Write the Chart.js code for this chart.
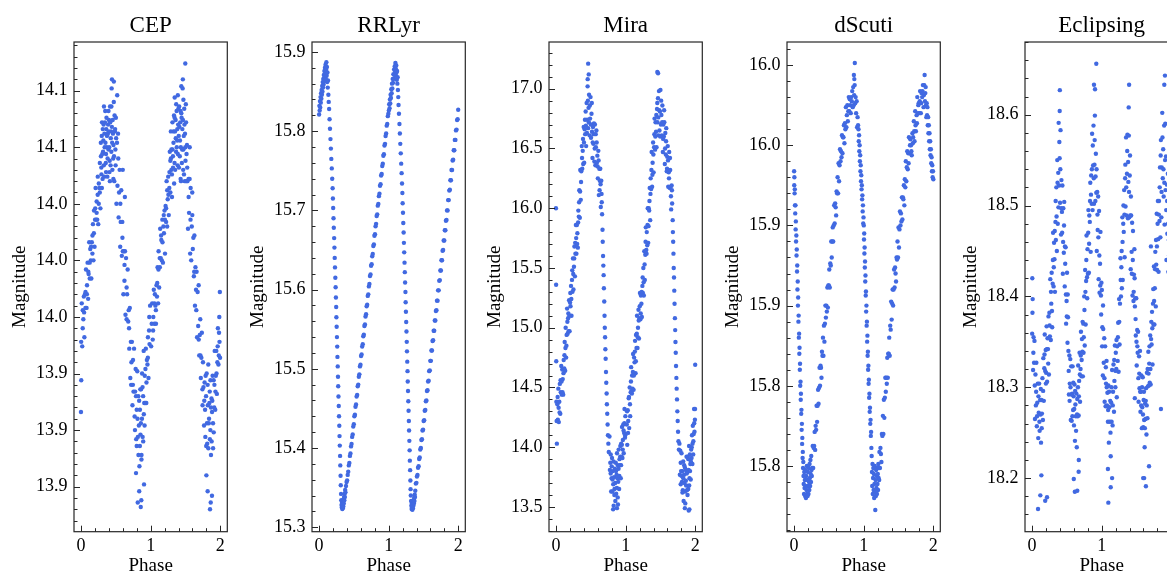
<!DOCTYPE html>
<html>
<head>
<meta charset="utf-8">
<script src="https://cdn.jsdelivr.net/npm/chart.js@4.4.1/dist/chart.umd.min.js"></script>
<style>
  html, body { margin: 0; padding: 0; background: #fff; overflow: hidden; }
  #wrap { position: relative; width: 1167px; height: 576px; overflow: hidden; }
  .panel { position: absolute; top: 0; width: 238px; height: 576px; }
</style>
</head>
<body>
<div id="wrap">
  <div class="panel" style="left:0px"><canvas id="cep" width="238" height="576"></canvas></div>
  <div class="panel" style="left:238px"><canvas id="rrlyr" width="238" height="576"></canvas></div>
  <div class="panel" style="left:475px"><canvas id="mira" width="238" height="576"></canvas></div>
  <div class="panel" style="left:713px"><canvas id="dscuti" width="238" height="576"></canvas></div>
  <div class="panel" style="left:951px"><canvas id="eclipsing" width="238" height="576"></canvas></div>
</div>
<script>
// ---- phase axis (shared) ----
const phaseTicks = [0, 1, 2];
const phaseLabels = ['0', '1', '2'];

// ---- CEP ----
const cepTicks = [13.9, 13.925, 13.95, 13.975, 14.0, 14.025, 14.05, 14.075];
const cepTickLabels = ['13.9', '13.9', '13.9', '14.0', '14.0', '14.0', '14.1', '14.1'];
const cepCycle1 = [[0.003,13.964],[0.011,13.981],[0.018,13.962],[0.026,13.978],[0.034,13.974],[0.041,13.984],[0.049,13.966],[0.057,13.985],[0.064,13.979],[0.072,13.996],[0.080,13.979],[0.087,13.989],[0.095,13.999],[0.103,13.983],[0.110,13.994],[0.118,14.008],[0.126,13.992],[0.133,14.005],[0.141,14.000],[0.149,13.992],[0.156,14.008],[0.164,14.003],[0.172,14.016],[0.179,14.000],[0.187,14.022],[0.195,14.006],[0.202,14.018],[0.210,14.032],[0.218,14.018],[0.225,14.026],[0.233,14.018],[0.241,14.037],[0.248,14.016],[0.256,14.034],[0.264,14.032],[0.271,14.043],[0.279,14.023],[0.287,14.046],[0.294,14.038],[0.302,14.061],[0.310,14.036],[0.317,14.048],[0.325,14.060],[0.333,14.037],[0.340,14.050],[0.348,14.066],[0.356,14.043],[0.363,14.058],[0.371,14.050],[0.379,14.037],[0.386,14.056],[0.394,14.049],[0.402,14.062],[0.409,14.039],[0.417,14.068],[0.425,14.042],[0.432,14.057],[0.440,14.076],[0.448,14.052],[0.455,14.062],[0.463,14.045],[0.471,14.070],[0.478,14.035],[0.486,14.057],[0.494,14.049],[0.501,14.063],[0.509,14.025],[0.517,14.052],[0.524,14.033],[0.532,14.056],[0.540,14.019],[0.547,14.030],[0.555,14.040],[0.563,14.006],[0.570,14.017],[0.578,14.031],[0.586,14.002],[0.593,14.017],[0.601,14.004],[0.609,13.985],[0.616,14.004],[0.624,13.991],[0.632,14.004],[0.639,13.976],[0.647,14.001],[0.655,13.974],[0.662,13.985],[0.670,13.996],[0.678,13.973],[0.685,13.978],[0.693,13.961],[0.701,13.979],[0.708,13.948],[0.716,13.964],[0.724,13.955],[0.731,13.964],[0.739,13.936],[0.747,13.956],[0.754,13.942],[0.762,13.961],[0.770,13.931],[0.777,13.942],[0.785,13.952],[0.793,13.921],[0.800,13.934],[0.808,13.951],[0.816,13.922],[0.823,13.940],[0.831,13.927],[0.839,13.909],[0.846,13.934],[0.854,13.923],[0.862,13.943],[0.869,13.914],[0.877,13.950],[0.885,13.922],[0.892,13.940],[0.900,13.960],[0.908,13.937],[0.915,13.949],[0.923,13.937],[0.931,13.961],[0.938,13.937],[0.946,13.956],[0.954,13.954],[0.961,13.966],[0.969,13.948],[0.977,13.969],[0.984,13.963],[0.992,13.980],
  [0.000,13.933],[0.004,13.947],[0.815,13.893],[0.836,13.898],[0.858,13.891],[0.866,13.894],[0.905,13.901],[0.790,13.906],[0.445,14.080],[0.472,14.079],[0.520,14.073],[0.600,14.040],[0.630,14.028],
  [0.285,14.052],[0.292,14.041],[0.298,14.055],[0.306,14.047],[0.313,14.058],[0.321,14.053],[0.328,14.042],[0.336,14.056],[0.344,14.061],[0.351,14.052],[0.359,14.047],[0.366,14.063],[0.374,14.055],[0.382,14.045],[0.389,14.060],[0.397,14.057],[0.405,14.050],[0.412,14.044],[0.420,14.061],[0.428,14.054],[0.436,14.048],[0.443,14.059],[0.451,14.040],[0.459,14.056],[0.466,14.051],[0.474,14.046],[0.482,14.064],[0.490,14.058],[0.497,14.042],[0.505,14.054],[0.330,14.068],[0.360,14.039],[0.395,14.066],[0.415,14.035],[0.437,14.068],[0.465,14.036],[0.300,14.032],[0.270,14.030],[0.255,14.025],[0.240,14.029],[0.225,14.021],[0.205,14.023],[0.185,14.012],[0.165,14.011],[0.145,14.006],[0.125,13.999],[0.105,13.995],[0.085,13.985],[0.065,13.986],[0.045,13.977],[0.025,13.970],[0.535,14.045],[0.565,14.025],[0.595,14.010],[0.625,13.998],[0.655,13.988],[0.690,13.970],[0.720,13.945],[0.745,13.945],[0.775,13.925],[0.790,13.940],[0.800,13.918],[0.812,13.930],[0.825,13.914],[0.835,13.938],[0.845,13.918],[0.852,13.943],[0.860,13.928],[0.868,13.912],[0.875,13.930],[0.884,13.944],[0.893,13.920],[0.902,13.932],[0.913,13.927],[0.925,13.952],[0.940,13.946],[0.960,13.957],[0.980,13.975]];
const cepCycle2 = [[1.007,13.962],[1.015,13.972],[1.022,13.981],[1.030,13.965],[1.038,13.975],[1.045,13.987],[1.053,13.972],[1.061,13.985],[1.068,13.980],[1.076,13.972],[1.084,13.989],[1.091,13.984],[1.099,13.997],[1.107,13.981],[1.114,14.004],[1.122,13.988],[1.130,14.001],[1.137,14.014],[1.145,14.001],[1.153,14.009],[1.160,14.000],[1.168,14.018],[1.176,13.999],[1.183,14.015],[1.191,14.012],[1.199,14.022],[1.206,14.003],[1.214,14.024],[1.222,14.017],[1.229,14.035],[1.237,14.015],[1.245,14.027],[1.252,14.037],[1.260,14.020],[1.268,14.032],[1.275,14.048],[1.283,14.030],[1.291,14.045],[1.298,14.040],[1.306,14.028],[1.314,14.049],[1.321,14.041],[1.329,14.057],[1.337,14.034],[1.344,14.063],[1.352,14.040],[1.360,14.054],[1.367,14.069],[1.375,14.050],[1.383,14.058],[1.390,14.047],[1.398,14.067],[1.406,14.041],[1.413,14.059],[1.421,14.053],[1.429,14.066],[1.436,14.035],[1.444,14.063],[1.452,14.049],[1.459,14.076],[1.467,14.040],[1.475,14.055],[1.482,14.067],[1.490,14.035],[1.498,14.050],[1.505,14.069],[1.513,14.035],[1.521,14.051],[1.528,14.035],[1.536,14.014],[1.544,14.036],[1.551,14.021],[1.559,14.036],[1.567,14.003],[1.574,14.032],[1.582,14.000],[1.590,14.015],[1.597,14.030],[1.605,14.005],[1.613,14.010],[1.620,13.993],[1.628,14.011],[1.636,13.980],[1.643,13.997],[1.651,13.987],[1.659,13.995],[1.666,13.966],[1.674,13.986],[1.682,13.971],[1.689,13.989],[1.697,13.958],[1.705,13.967],[1.712,13.974],[1.720,13.948],[1.728,13.957],[1.735,13.968],[1.743,13.943],[1.751,13.955],[1.758,13.944],[1.766,13.927],[1.774,13.946],[1.781,13.934],[1.789,13.949],[1.797,13.918],[1.804,13.950],[1.812,13.919],[1.820,13.936],[1.827,13.954],[1.835,13.928],[1.843,13.937],[1.850,13.921],[1.858,13.947],[1.866,13.914],[1.873,13.939],[1.881,13.933],[1.889,13.949],[1.896,13.917],[1.904,13.947],[1.912,13.935],[1.919,13.960],[1.927,13.934],[1.935,13.949],[1.942,13.960],[1.950,13.941],[1.958,13.955],[1.965,13.970],[1.973,13.954],[1.981,13.968],[1.988,13.964],[1.996,13.957],
  [1.497,14.087],[1.462,14.080],[1.440,14.077],[1.852,13.890],[1.862,13.893],[1.818,13.898],[1.880,13.896],[1.800,13.905],[1.993,13.986],[1.985,13.975],[1.560,14.050],
  [1.283,14.044],[1.290,14.057],[1.298,14.049],[1.305,14.038],[1.313,14.061],[1.320,14.046],[1.328,14.052],[1.335,14.064],[1.343,14.043],[1.350,14.057],[1.358,14.062],[1.365,14.048],[1.373,14.066],[1.380,14.053],[1.388,14.042],[1.395,14.060],[1.403,14.055],[1.410,14.068],[1.418,14.046],[1.425,14.061],[1.433,14.050],[1.440,14.065],[1.448,14.043],[1.455,14.058],[1.463,14.062],[1.470,14.049],[1.478,14.038],[1.485,14.060],[1.493,14.056],[1.500,14.044],[1.508,14.061],[1.515,14.047],[1.525,14.041],[1.345,14.072],[1.390,14.073],[1.430,14.036],[1.470,14.071],[1.270,14.039],[1.255,14.029],[1.238,14.031],[1.222,14.023],[1.205,14.018],[1.188,14.020],[1.170,14.008],[1.150,14.011],[1.132,13.997],[1.112,13.996],[1.095,13.990],[1.075,13.978],[1.055,13.981],[1.035,13.969],[1.545,14.028],[1.572,14.018],[1.598,14.020],[1.625,13.995],[1.655,13.978],[1.690,13.965],[1.715,13.958],[1.745,13.936],[1.770,13.938],[1.785,13.922],[1.795,13.940],[1.808,13.928],[1.818,13.945],[1.828,13.917],[1.838,13.930],[1.848,13.942],[1.857,13.925],[1.865,13.935],[1.875,13.920],[1.885,13.938],[1.895,13.928],[1.905,13.924],[1.915,13.945],[1.930,13.942],[1.945,13.950],[1.962,13.962],[1.978,13.958]];

// ---- RRLyr ----
const rrlyrTicks = [15.3, 15.4, 15.5, 15.6, 15.7, 15.8, 15.9];
const rrlyrTickLabels = ['15.3', '15.4', '15.5', '15.6', '15.7', '15.8', '15.9'];
const rrlyrCycle1 = [[0.002,15.821],[0.006,15.832],[0.010,15.826],[0.014,15.838],[0.018,15.830],[0.022,15.843],[0.026,15.836],[0.030,15.848],[0.034,15.841],[0.038,15.852],[0.042,15.846],[0.046,15.857],[0.050,15.850],[0.054,15.862],[0.058,15.855],[0.062,15.866],[0.066,15.859],[0.070,15.871],[0.074,15.863],[0.078,15.876],[0.082,15.868],[0.086,15.880],[0.090,15.872],[0.094,15.884],[0.098,15.866],[0.102,15.878],[0.106,15.887],[0.110,15.870],[0.114,15.881],[0.118,15.862],[0.122,15.874],[0.126,15.855],[0.130,15.864],[0.135,15.846],[0.140,15.837],
  [0.146,15.828],[0.152,15.815],[0.158,15.803],[0.165,15.790],[0.171,15.778],[0.177,15.765],[0.184,15.753],[0.190,15.740],[0.196,15.728],[0.200,15.715],[0.204,15.703],[0.209,15.690],[0.213,15.678],[0.218,15.665],[0.222,15.653],[0.226,15.640],[0.230,15.628],[0.235,15.615],[0.239,15.603],[0.243,15.590],[0.247,15.578],[0.250,15.565],[0.254,15.553],[0.258,15.540],[0.262,15.528],[0.265,15.515],[0.269,15.503],[0.273,15.490],[0.276,15.478],[0.280,15.465],[0.284,15.453],[0.288,15.440],[0.292,15.428],[0.295,15.415],[0.299,15.403],[0.303,15.390],[0.306,15.378],[0.310,15.365],[0.313,15.353],[0.317,15.342],
  [0.320,15.334],[0.324,15.328],[0.328,15.325],[0.331,15.331],[0.335,15.323],[0.338,15.329],[0.342,15.324],[0.345,15.332],[0.349,15.326],[0.352,15.335],[0.356,15.330],[0.360,15.338],[0.364,15.334],[0.368,15.342],[0.372,15.338],[0.376,15.347],[0.380,15.344],
  [0.388,15.352],[0.396,15.357],[0.404,15.359],[0.412,15.366],[0.420,15.370],[0.428,15.378],[0.436,15.381],[0.444,15.390],[0.452,15.393],[0.460,15.402],[0.468,15.405],[0.476,15.414],[0.484,15.417],[0.492,15.427],[0.500,15.430],[0.508,15.440],[0.516,15.442],[0.524,15.452],[0.532,15.455],[0.540,15.465],[0.548,15.467],[0.556,15.478],[0.564,15.480],[0.572,15.490],[0.580,15.493],[0.588,15.503],[0.596,15.505],[0.604,15.516],[0.612,15.518],[0.620,15.528],[0.628,15.531],[0.636,15.541],[0.644,15.543],[0.652,15.554],[0.660,15.556],[0.668,15.566],[0.676,15.569],[0.684,15.579],[0.692,15.581],[0.700,15.592],[0.708,15.594],[0.716,15.604],[0.724,15.607],[0.732,15.617],[0.740,15.619],[0.748,15.630],[0.756,15.632],[0.764,15.642],[0.772,15.645],[0.780,15.655],[0.788,15.657],[0.796,15.668],[0.804,15.670],[0.812,15.680],[0.820,15.683],[0.828,15.693],[0.836,15.695],[0.844,15.706],[0.852,15.708],[0.860,15.718],[0.868,15.721],[0.876,15.731],[0.884,15.733],[0.892,15.744],[0.900,15.746],[0.908,15.756],[0.916,15.759],[0.924,15.769],[0.932,15.771],[0.940,15.782],[0.948,15.784],[0.956,15.794],[0.964,15.797],[0.972,15.807],[0.980,15.809],[0.988,15.819],[0.996,15.822]];
const rrlyrCycle2 = [[1.003,15.826],[1.008,15.834],[1.013,15.829],[1.018,15.840],[1.023,15.835],[1.028,15.846],[1.033,15.842],[1.038,15.853],[1.043,15.848],[1.048,15.860],[1.053,15.854],[1.058,15.866],[1.063,15.861],[1.068,15.872],[1.073,15.866],[1.078,15.878],[1.083,15.871],[1.088,15.882],[1.093,15.875],[1.097,15.886],[1.101,15.879],[1.105,15.870],[1.109,15.883],[1.113,15.874],[1.117,15.865],[1.121,15.876],[1.125,15.860],[1.129,15.868],[1.133,15.852],[1.138,15.843],[1.142,15.833],
  [1.148,15.822],[1.155,15.809],[1.161,15.797],[1.167,15.784],[1.174,15.772],[1.180,15.759],[1.186,15.747],[1.192,15.734],[1.197,15.722],[1.201,15.709],[1.206,15.697],[1.210,15.684],[1.215,15.672],[1.219,15.659],[1.223,15.647],[1.228,15.634],[1.232,15.622],[1.236,15.609],[1.241,15.597],[1.244,15.584],[1.248,15.572],[1.252,15.559],[1.256,15.547],[1.260,15.534],[1.263,15.522],[1.267,15.509],[1.271,15.497],[1.274,15.484],[1.278,15.472],[1.282,15.459],[1.286,15.447],[1.290,15.434],[1.293,15.422],[1.297,15.409],[1.301,15.397],[1.304,15.384],[1.308,15.372],[1.312,15.359],[1.315,15.348],[1.318,15.340],
  [1.322,15.333],[1.326,15.327],[1.330,15.323],[1.333,15.330],[1.337,15.325],[1.341,15.322],[1.344,15.328],[1.348,15.324],[1.351,15.331],[1.355,15.327],[1.358,15.334],[1.362,15.330],[1.366,15.337],[1.370,15.333],[1.374,15.341],[1.378,15.338],[1.382,15.346],
  [1.390,15.355],[1.398,15.356],[1.406,15.364],[1.414,15.366],[1.422,15.375],[1.430,15.377],[1.438,15.386],[1.446,15.388],[1.454,15.398],[1.462,15.400],[1.470,15.410],[1.478,15.411],[1.486,15.422],[1.494,15.423],[1.502,15.434],[1.510,15.435],[1.518,15.447],[1.526,15.448],[1.534,15.459],[1.542,15.460],[1.550,15.472],[1.558,15.473],[1.566,15.484],[1.574,15.485],[1.582,15.497],[1.590,15.498],[1.598,15.510],[1.606,15.510],[1.614,15.523],[1.622,15.523],[1.630,15.535],[1.638,15.536],[1.646,15.548],[1.654,15.548],[1.662,15.561],[1.670,15.561],[1.678,15.573],[1.686,15.574],[1.694,15.586],[1.702,15.586],[1.710,15.599],[1.718,15.599],[1.726,15.611],[1.734,15.612],[1.742,15.624],[1.750,15.624],[1.758,15.637],[1.766,15.637],[1.774,15.649],[1.782,15.650],[1.790,15.662],[1.798,15.662],[1.806,15.675],[1.814,15.675],[1.822,15.687],[1.830,15.688],[1.838,15.700],[1.846,15.700],[1.854,15.713],[1.862,15.713],[1.870,15.725],[1.878,15.726],[1.886,15.738],[1.894,15.738],[1.902,15.751],[1.910,15.751],[1.918,15.763],[1.926,15.764],[1.934,15.776],[1.942,15.776],[1.950,15.789],[1.958,15.789],[1.966,15.801],[1.974,15.802],[1.982,15.814],[1.990,15.815],[1.998,15.827]];

// ---- Mira ----
const miraTicks = [13.5, 14.0, 14.5, 15.0, 15.5, 16.0, 16.5, 17.0];
const miraTickLabels = ['13.5', '14.0', '14.5', '15.0', '15.5', '16.0', '16.5', '17.0'];
const miraCycle1 = [[0.000,16.00],[0.002,15.36],[0.004,14.72],
  [0.006,14.38],[0.013,14.03],[0.020,14.36],[0.027,14.23],[0.034,14.49],[0.041,14.21],[0.048,14.38],[0.055,14.53],[0.062,14.28],[0.069,14.46],[0.076,14.68],[0.083,14.44],[0.090,14.65],[0.097,14.57],[0.104,14.44],[0.111,14.73],[0.118,14.66],[0.125,14.88],[0.132,14.64],[0.139,15.00],[0.146,14.75],[0.153,14.94],[0.160,15.16],[0.167,14.95],[0.174,15.08],[0.181,14.97],[0.188,15.23],[0.195,14.97],[0.202,15.21],[0.209,15.18],[0.216,15.35],[0.223,15.10],[0.230,15.40],[0.237,15.30],[0.244,15.58],[0.251,15.32],[0.258,15.51],[0.265,15.68],[0.272,15.43],[0.279,15.62],[0.286,15.86],[0.293,15.62],[0.300,15.86],[0.307,15.79],[0.314,15.67],[0.321,15.98],[0.328,15.93],[0.335,16.15],[0.342,15.92],[0.349,16.32],[0.356,16.07],[0.363,16.31],[0.370,16.52],[0.377,16.33],[0.384,16.48],[0.391,16.37],[0.398,16.68],[0.405,16.38],[0.412,16.66],[0.419,16.62],[0.426,16.81],[0.433,16.52],[0.440,16.88],[0.447,16.74],[0.454,17.02],[0.461,16.67],[0.468,16.84],[0.475,16.95],[0.482,16.61],[0.489,16.75],[0.496,16.93],[0.503,16.59],[0.510,16.79],[0.517,16.64],[0.524,16.42],[0.531,16.68],[0.538,16.54],[0.545,16.71],[0.552,16.39],[0.559,16.70],[0.566,16.36],[0.573,16.51],[0.580,16.65],[0.587,16.38],[0.594,16.44],[0.601,16.25],[0.608,16.48],[0.615,16.11],[0.622,16.33],[0.629,16.23],[0.636,16.33],[0.643,16.01],[0.650,16.23],[0.657,16.05],
  [0.662,15.95],[0.668,15.82],[0.671,15.72],[0.676,15.60],[0.680,15.52],[0.684,15.44],[0.688,15.33],[0.693,15.22],[0.697,15.10],[0.701,15.00],[0.705,14.92],[0.709,14.82],[0.713,14.74],[0.718,14.63],[0.722,14.54],[0.727,14.45],[0.731,14.36],[0.736,14.28],[0.741,14.19],[0.746,14.10],[0.752,14.03],[0.758,13.96],
  [0.768,14.09],[0.774,13.81],[0.780,13.87],[0.786,13.94],[0.792,13.63],[0.798,13.74],[0.804,13.91],[0.810,13.63],[0.816,13.80],[0.822,13.69],[0.828,13.51],[0.834,13.75],[0.840,13.65],[0.846,13.82],[0.852,13.55],[0.858,13.87],[0.864,13.61],[0.870,13.77],[0.876,13.95],[0.882,13.74],[0.888,13.85],[0.894,13.71],[0.900,13.98],[0.906,13.65],[0.912,13.90],[0.918,13.85],[0.924,14.01],[0.930,13.74],[0.936,14.03],[0.942,13.92],[0.948,14.17],[0.954,13.91],[0.960,14.06],[0.966,14.19],[0.972,13.95],[0.978,14.12],[0.984,14.32],[0.990,14.08],[0.996,14.26],
  [0.462,17.21],[0.470,17.12],[0.455,17.08],[0.820,13.48],[0.875,13.49],[0.890,13.52],
  [0.010,14.22],[0.024,14.42],[0.038,14.33],[0.052,14.29],[0.066,14.56],[0.080,14.55],[0.094,14.46],[0.108,14.62],[0.122,14.77],[0.136,14.83],[0.150,14.85],[0.164,15.05],[0.178,15.12],[0.192,15.10],[0.206,15.29],[0.220,15.24],[0.234,15.48],[0.248,15.45],[0.262,15.58],[0.276,15.71],[0.290,15.75],[0.304,15.70],[0.318,15.88],[0.332,16.05],[0.346,16.14],[0.360,16.22],[0.374,16.42],[0.388,16.58],[0.402,16.55],[0.416,16.74],[0.430,16.69],[0.444,16.63],[0.458,16.90],[0.472,16.72],[0.486,16.86],[0.500,16.70],[0.514,16.88],[0.528,16.55],[0.542,16.62],[0.556,16.50],[0.570,16.62],[0.584,16.55],[0.598,16.35],[0.612,16.40],[0.626,16.15],[0.640,16.20],[0.654,16.12],[0.785,13.78],[0.800,13.84],[0.812,13.73],[0.825,13.88],[0.838,13.60],[0.850,13.70],[0.862,13.80],[0.874,13.66],[0.886,13.58],[0.898,13.82],[0.910,13.76],[0.922,13.92],[0.934,13.85],[0.946,14.02],[0.958,13.98],[0.970,14.14],[0.982,14.20],[0.994,14.10]];
const miraCycle2 = [[1.016,14.19],[1.023,14.02],[1.030,14.31],[1.037,14.22],[1.044,14.41],[1.051,14.16],[1.058,14.50],[1.065,14.26],[1.072,14.46],[1.079,14.67],[1.086,14.47],[1.093,14.60],[1.100,14.49],[1.107,14.78],[1.114,14.48],[1.121,14.75],[1.128,14.71],[1.135,14.89],[1.142,14.62],[1.149,14.94],[1.156,14.83],[1.163,15.10],[1.170,14.83],[1.177,15.00],[1.184,15.15],[1.191,14.91],[1.198,15.08],[1.205,15.29],[1.212,15.07],[1.219,15.27],[1.226,15.20],[1.233,15.09],[1.240,15.35],[1.247,15.29],[1.254,15.50],[1.261,15.27],[1.268,15.64],[1.275,15.40],[1.282,15.61],[1.289,15.84],[1.296,15.65],[1.303,15.80],[1.310,15.69],[1.317,16.00],[1.324,15.71],[1.331,16.00],[1.338,15.98],[1.345,16.17],[1.352,15.90],[1.359,16.25],[1.366,16.16],[1.373,16.47],[1.380,16.18],[1.387,16.38],[1.394,16.55],[1.401,16.30],[1.408,16.51],[1.415,16.75],[1.422,16.49],[1.429,16.72],[1.436,16.64],[1.443,16.51],[1.450,16.83],[1.457,16.72],[1.464,16.92],[1.471,16.61],[1.478,16.98],[1.485,16.65],[1.492,16.81],[1.499,16.99],[1.506,16.70],[1.513,16.78],[1.520,16.61],[1.527,16.86],[1.534,16.47],[1.541,16.70],[1.548,16.60],[1.555,16.72],[1.562,16.37],[1.569,16.63],[1.576,16.45],[1.583,16.67],[1.590,16.31],[1.597,16.43],[1.604,16.52],[1.611,16.18],[1.618,16.30],[1.625,16.47],[1.632,16.17],[1.639,16.32],[1.646,16.18],[1.653,15.99],[1.660,16.19],[1.667,16.04],[1.675,15.90],[1.678,15.80],
  [1.682,15.72],[1.686,15.62],[1.690,15.50],[1.694,15.42],[1.698,15.31],[1.702,15.20],[1.707,15.08],[1.711,14.98],[1.715,14.88],[1.719,14.79],[1.723,14.68],[1.728,14.58],[1.732,14.49],[1.737,14.40],[1.742,14.30],[1.747,14.22],[1.752,14.13],[1.758,14.05],[1.764,13.98],
  [1.772,14.03],[1.778,13.77],[1.784,13.97],[1.790,13.69],[1.796,13.80],[1.802,13.95],[1.808,13.71],[1.814,13.80],[1.820,13.64],[1.826,13.88],[1.832,13.55],[1.838,13.77],[1.844,13.70],[1.850,13.83],[1.856,13.53],[1.862,13.81],[1.868,13.68],[1.874,13.92],[1.880,13.64],[1.886,13.79],[1.892,13.92],[1.898,13.65],[1.904,13.81],[1.910,14.01],[1.916,13.74],[1.922,13.94],[1.928,13.86],[1.934,13.73],[1.940,13.98],[1.946,13.91],[1.952,14.10],[1.958,13.86],[1.964,14.18],[1.970,13.94],[1.976,14.11],[1.982,14.32],[1.988,14.13],[1.994,14.23],
  [1.998,14.69],[1.455,17.14],[1.465,17.13],[1.905,13.47],[1.915,13.48],[1.850,13.49],
  [1.020,14.30],[1.034,14.12],[1.048,14.42],[1.062,14.36],[1.076,14.55],[1.090,14.45],[1.104,14.63],[1.118,14.60],[1.132,14.80],[1.146,14.72],[1.160,14.95],[1.174,14.92],[1.188,15.06],[1.202,15.18],[1.216,15.12],[1.230,15.30],[1.244,15.42],[1.258,15.38],[1.272,15.53],[1.286,15.72],[1.300,15.62],[1.314,15.86],[1.328,15.85],[1.342,16.06],[1.356,16.12],[1.370,16.32],[1.384,16.28],[1.398,16.45],[1.412,16.62],[1.426,16.60],[1.440,16.78],[1.454,16.88],[1.468,16.76],[1.482,16.82],[1.496,16.60],[1.510,16.90],[1.524,16.72],[1.538,16.58],[1.552,16.82],[1.566,16.50],[1.580,16.56],[1.594,16.33],[1.608,16.40],[1.622,16.25],[1.636,16.42],[1.650,16.10],[1.664,16.15],[1.790,13.87],[1.802,13.76],[1.815,13.62],[1.828,13.74],[1.840,13.85],[1.852,13.63],[1.864,13.72],[1.876,13.78],[1.888,13.60],[1.900,13.90],[1.912,13.68],[1.924,13.80],[1.936,13.88],[1.948,14.00],[1.960,14.03],[1.972,14.05],[1.984,14.20],[1.996,14.32]];

// ---- dScuti ----
const dscutiTicks = [15.80, 15.84, 15.88, 15.92, 15.96, 16.00];
const dscutiTickLabels = ['15.8', '15.8', '15.9', '15.9', '16.0', '16.0'];
const dscutiCycle1 = [[0.002,15.947],[0.004,15.940],[0.006,15.944],[0.009,15.936],[0.012,15.938],[0.015,15.930],[0.018,15.926],[0.021,15.930],[0.024,15.918],[0.027,15.922],[0.030,15.912],[0.034,15.915],[0.037,15.905],[0.040,15.908],[0.044,15.897],[0.047,15.900],[0.050,15.888],[0.054,15.892],[0.057,15.880],[0.060,15.884],[0.064,15.872],[0.067,15.875],[0.070,15.864],[0.074,15.866],[0.077,15.856],[0.080,15.859],[0.084,15.848],[0.087,15.851],[0.090,15.840],[0.094,15.842],[0.097,15.833],[0.100,15.836],[0.104,15.826],[0.107,15.828],[0.110,15.818],[0.114,15.821],[0.117,15.811],[0.120,15.814],[0.124,15.804],[0.127,15.807],[0.130,15.799],[0.134,15.802],[0.137,15.795],
  [0.140,15.791],[0.144,15.786],[0.148,15.797],[0.152,15.789],[0.156,15.793],[0.160,15.785],[0.164,15.798],[0.168,15.790],[0.172,15.784],[0.176,15.795],[0.180,15.788],[0.184,15.800],[0.188,15.786],[0.192,15.793],[0.196,15.785],[0.200,15.797],[0.204,15.790],[0.208,15.786],[0.212,15.799],[0.216,15.792],[0.220,15.788],[0.224,15.801],[0.228,15.794],[0.232,15.790],[0.236,15.803],[0.240,15.796],[0.244,15.792],[0.248,15.805],[0.252,15.798],[0.256,15.795],
  [0.262,15.799],[0.269,15.810],[0.276,15.799],[0.283,15.809],[0.290,15.810],[0.297,15.817],[0.304,15.808],[0.311,15.820],[0.318,15.818],[0.325,15.830],[0.332,15.822],[0.339,15.830],[0.346,15.838],[0.353,15.831],[0.360,15.839],[0.367,15.849],[0.374,15.840],[0.381,15.850],[0.388,15.849],[0.395,15.844],[0.402,15.857],[0.409,15.855],[0.416,15.864],[0.423,15.855],[0.430,15.870],[0.437,15.862],[0.444,15.871],[0.451,15.880],[0.458,15.874],[0.465,15.880],[0.472,15.877],[0.479,15.889],[0.486,15.879],[0.493,15.890],[0.500,15.890],[0.507,15.898],[0.514,15.889],[0.521,15.901],[0.528,15.900],[0.535,15.912],[0.542,15.904],[0.549,15.912],[0.556,15.919],[0.563,15.912],[0.570,15.920],[0.577,15.930],[0.584,15.921],[0.591,15.931],[0.598,15.929],[0.605,15.925],[0.612,15.937],[0.619,15.936],[0.626,15.944],[0.633,15.936],[0.640,15.951],[0.647,15.942],[0.654,15.950],[0.661,15.958],[0.668,15.952],[0.675,15.957],[0.682,15.954],[0.689,15.965],[0.696,15.956],[0.703,15.964],[0.710,15.964],[0.717,15.970],[0.724,15.961],[0.731,15.971],[0.738,15.968],[0.745,15.979],[0.752,15.969],[0.759,15.975],[0.766,15.980],[0.773,15.972],[0.780,15.977],[0.787,15.984],[0.794,15.977],[0.801,15.983],[0.808,15.980],[0.815,15.976],[0.822,15.984],[0.829,15.982],[0.836,15.987],[0.843,15.979],[0.850,15.989],[0.857,15.980],[0.864,15.985],[0.871,15.990],[0.878,15.981],[0.885,15.984],[0.892,15.976],[0.899,15.982],[0.906,15.969],[0.913,15.974],[0.920,15.970],
  [0.926,15.968],[0.930,15.962],[0.934,15.965],[0.938,15.957],[0.942,15.960],[0.946,15.952],[0.950,15.955],[0.954,15.947],[0.958,15.950],[0.962,15.942],[0.966,15.945],[0.970,15.938],[0.974,15.940],[0.978,15.933],[0.982,15.935],[0.986,15.927],[0.990,15.930],[0.994,15.921],[0.998,15.924],
  [0.873,16.001],[0.860,15.995],[0.866,15.993]];
const dscutiCycle2 = [[1.002,15.920],[1.005,15.913],[1.008,15.916],[1.011,15.906],[1.014,15.909],[1.017,15.899],[1.020,15.902],[1.023,15.892],[1.026,15.895],[1.030,15.885],[1.033,15.887],[1.036,15.877],[1.040,15.880],[1.043,15.870],[1.047,15.872],[1.050,15.862],[1.054,15.865],[1.057,15.855],[1.061,15.857],[1.064,15.848],[1.068,15.850],[1.071,15.841],[1.075,15.843],[1.079,15.834],[1.083,15.836],[1.087,15.827],[1.091,15.829],[1.095,15.821],[1.099,15.823],[1.103,15.815],[1.107,15.817],[1.111,15.809],[1.115,15.805],
  [1.119,15.797],[1.123,15.790],[1.127,15.801],[1.131,15.786],[1.135,15.794],[1.139,15.799],[1.143,15.788],[1.147,15.796],[1.151,15.784],[1.155,15.791],[1.159,15.800],[1.163,15.787],[1.167,15.778],[1.171,15.793],[1.175,15.785],[1.179,15.798],[1.183,15.789],[1.187,15.795],[1.191,15.786],[1.195,15.799],[1.199,15.791],[1.203,15.796],[1.207,15.788],[1.211,15.801],[1.215,15.794],[1.219,15.799],[1.223,15.793],
  [1.227,15.807],[1.234,15.799],[1.241,15.809],[1.248,15.806],[1.255,15.802],[1.262,15.816],[1.269,15.815],[1.276,15.825],[1.283,15.816],[1.290,15.833],[1.297,15.824],[1.304,15.834],[1.311,15.844],[1.318,15.837],[1.325,15.844],[1.332,15.841],[1.339,15.854],[1.346,15.844],[1.353,15.856],[1.360,15.856],[1.367,15.864],[1.374,15.855],[1.381,15.870],[1.388,15.868],[1.395,15.882],[1.402,15.873],[1.409,15.881],[1.416,15.888],[1.423,15.880],[1.430,15.888],[1.437,15.898],[1.444,15.889],[1.451,15.899],[1.458,15.896],[1.465,15.892],[1.472,15.904],[1.479,15.903],[1.486,15.912],[1.493,15.904],[1.500,15.919],[1.507,15.909],[1.514,15.918],[1.521,15.927],[1.528,15.920],[1.535,15.926],[1.542,15.922],[1.549,15.934],[1.556,15.923],[1.563,15.934],[1.570,15.933],[1.577,15.940],[1.584,15.930],[1.591,15.943],[1.598,15.939],[1.605,15.952],[1.612,15.942],[1.619,15.949],[1.626,15.957],[1.633,15.948],[1.640,15.956],[1.650,15.964],[1.660,15.956],[1.670,15.963],[1.680,15.960],[1.690,15.955],[1.700,15.966],[1.710,15.964],[1.720,15.972],[1.730,15.962],[1.740,15.977],[1.750,15.967],[1.760,15.975],[1.770,15.984],[1.780,15.976],[1.790,15.981],[1.800,15.976],[1.810,15.987],[1.820,15.976],[1.830,15.986],[1.840,15.984],[1.850,15.990],[1.860,15.979],[1.870,15.990],[1.880,15.982],[1.890,15.989],[1.900,15.974],
  [1.645,15.951],[1.665,15.960],[1.685,15.957],[1.705,15.961],[1.725,15.967],[1.745,15.970],[1.765,15.971],[1.785,15.980],[1.805,15.982],[1.825,15.981],[1.845,15.987],[1.865,15.985],[1.875,15.995],[1.885,15.986],[1.895,15.980],
  [1.905,15.981],[1.910,15.975],[1.915,15.979],[1.920,15.970],[1.925,15.974],[1.930,15.966],[1.935,15.970],[1.940,15.962],[1.945,15.966],[1.950,15.958],[1.955,15.962],[1.960,15.955],[1.965,15.958],[1.970,15.951],[1.975,15.954],[1.980,15.947],[1.985,15.950],[1.990,15.944],[1.995,15.947],[2.000,15.943]];

// ---- Eclipsing ----
const eclTicks = [18.2, 18.3, 18.4, 18.5, 18.6];
const eclTickLabels = ['18.2', '18.3', '18.4', '18.5', '18.6'];
const eclCycle1 = [[0.003,18.359],[0.010,18.397],[0.016,18.319],[0.023,18.355],[0.030,18.327],[0.036,18.351],[0.043,18.265],[0.050,18.314],[0.056,18.280],[0.063,18.327],[0.070,18.257],[0.076,18.283],[0.083,18.304],[0.090,18.244],[0.097,18.272],[0.103,18.304],[0.110,18.252],[0.117,18.286],[0.123,18.270],[0.130,18.239],[0.137,18.286],[0.143,18.271],[0.150,18.310],[0.157,18.264],[0.163,18.332],[0.170,18.285],[0.177,18.321],[0.183,18.358],[0.190,18.318],[0.197,18.341],[0.203,18.316],[0.210,18.367],[0.217,18.306],[0.223,18.354],[0.230,18.342],[0.237,18.378],[0.243,18.314],[0.250,18.382],[0.257,18.356],[0.263,18.419],[0.270,18.352],[0.277,18.392],[0.283,18.426],[0.290,18.366],[0.297,18.414],[0.303,18.470],[0.310,18.411],[0.317,18.459],[0.323,18.441],[0.330,18.405],[0.337,18.482],[0.343,18.462],[0.350,18.520],[0.357,18.450],[0.363,18.550],[0.370,18.480],[0.377,18.536],[0.383,18.591],[0.390,18.522],[0.397,18.552],[0.403,18.503],[0.410,18.583],[0.417,18.468],[0.423,18.528],[0.430,18.493],[0.437,18.522],[0.443,18.425],[0.450,18.497],[0.457,18.448],[0.463,18.504],[0.470,18.411],[0.477,18.436],[0.483,18.454],[0.490,18.370],[0.497,18.395],[0.503,18.426],[0.510,18.349],[0.517,18.377],[0.523,18.340],[0.530,18.292],[0.537,18.335],[0.543,18.304],[0.550,18.331],[0.557,18.264],[0.563,18.323],[0.570,18.263],[0.577,18.293],[0.583,18.323],[0.590,18.275],[0.597,18.290],[0.603,18.258],[0.610,18.303],[0.617,18.241],[0.623,18.281],[0.630,18.268],[0.637,18.293],[0.643,18.234],[0.650,18.287],[0.657,18.268],[0.663,18.324],[0.670,18.269],[0.677,18.307],[0.683,18.338],[0.690,18.284],[0.697,18.320],[0.703,18.361],[0.710,18.312],[0.717,18.353],[0.723,18.339],[0.730,18.312],[0.737,18.370],[0.743,18.355],[0.750,18.400],[0.757,18.346],[0.763,18.429],[0.770,18.369],[0.777,18.417],[0.783,18.467],[0.790,18.421],[0.797,18.452],[0.803,18.425],[0.810,18.495],[0.817,18.426],[0.823,18.489],[0.830,18.482],[0.837,18.525],[0.843,18.449],[0.850,18.533],[0.857,18.502],[0.863,18.579],[0.870,18.495],[0.877,18.544],[0.883,18.588],[0.890,18.502],[0.897,18.545],[0.903,18.599],[0.910,18.505],[0.917,18.557],[0.923,18.514],[0.930,18.450],[0.937,18.515],[0.943,18.473],[0.950,18.510],[0.957,18.419],[0.963,18.494],[0.970,18.404],[0.977,18.436],[0.983,18.471],[0.990,18.401],[0.997,18.415],
  [0.087,18.166],[0.120,18.181],[0.135,18.203],[0.190,18.175],[0.216,18.179],[0.600,18.199],[0.615,18.185],[0.650,18.186],[0.670,18.207],[0.672,18.220],[0.400,18.627],[0.398,18.604],[0.923,18.656],[0.890,18.633],[0.905,18.628],[0.005,18.420],
  [0.007,18.382],[0.020,18.338],[0.040,18.302],[0.060,18.295],[0.073,18.268],[0.093,18.290],[0.107,18.262],[0.127,18.298],[0.140,18.255],[0.160,18.296],[0.180,18.336],[0.200,18.304],[0.213,18.342],[0.233,18.326],[0.253,18.368],[0.273,18.405],[0.287,18.384],[0.300,18.440],[0.313,18.432],[0.327,18.472],[0.340,18.505],[0.353,18.488],[0.367,18.525],[0.380,18.498],[0.393,18.570],[0.407,18.540],[0.420,18.497],[0.433,18.470],[0.447,18.460],[0.460,18.478],[0.473,18.455],[0.487,18.402],[0.500,18.378],[0.513,18.402],[0.527,18.318],[0.540,18.285],[0.553,18.300],[0.567,18.292],[0.580,18.268],[0.593,18.305],[0.607,18.276],[0.620,18.296],[0.633,18.252],[0.647,18.270],[0.660,18.300],[0.673,18.290],[0.687,18.314],[0.700,18.335],[0.713,18.330],[0.727,18.372],[0.740,18.338],[0.753,18.385],[0.767,18.405],[0.780,18.440],[0.793,18.398],[0.807,18.470],[0.820,18.458],[0.833,18.505],[0.847,18.512],[0.860,18.540],[0.873,18.566],[0.887,18.530],[0.900,18.572],[0.913,18.532],[0.927,18.540],[0.940,18.490],[0.953,18.465],[0.967,18.445],[0.980,18.412],[0.993,18.380]];
const eclCycle2 = [[1.003,18.407],[1.010,18.366],[1.017,18.313],[1.023,18.364],[1.030,18.327],[1.037,18.354],[1.043,18.284],[1.050,18.345],[1.057,18.279],[1.063,18.304],[1.070,18.329],[1.077,18.280],[1.083,18.294],[1.090,18.262],[1.097,18.302],[1.103,18.239],[1.110,18.278],[1.117,18.262],[1.123,18.285],[1.130,18.224],[1.137,18.283],[1.143,18.262],[1.150,18.319],[1.157,18.258],[1.163,18.295],[1.170,18.325],[1.177,18.273],[1.183,18.307],[1.190,18.346],[1.197,18.300],[1.203,18.338],[1.210,18.320],[1.217,18.289],[1.223,18.345],[1.230,18.329],[1.237,18.371],[1.243,18.317],[1.250,18.397],[1.257,18.347],[1.263,18.392],[1.270,18.442],[1.277,18.400],[1.283,18.432],[1.290,18.409],[1.297,18.487],[1.303,18.418],[1.310,18.480],[1.317,18.471],[1.323,18.517],[1.330,18.443],[1.337,18.530],[1.343,18.499],[1.350,18.575],[1.357,18.489],[1.363,18.535],[1.370,18.578],[1.377,18.486],[1.383,18.526],[1.390,18.577],[1.397,18.487],[1.403,18.533],[1.410,18.489],[1.417,18.430],[1.423,18.489],[1.430,18.449],[1.437,18.481],[1.443,18.401],[1.450,18.472],[1.457,18.395],[1.463,18.424],[1.470,18.452],[1.477,18.389],[1.483,18.398],[1.490,18.357],[1.497,18.398],[1.503,18.324],[1.510,18.363],[1.517,18.338],[1.523,18.361],[1.530,18.284],[1.537,18.334],[1.543,18.299],[1.550,18.340],[1.557,18.273],[1.563,18.295],[1.570,18.313],[1.577,18.255],[1.583,18.278],[1.590,18.311],[1.597,18.256],[1.603,18.286],[1.610,18.264],[1.617,18.234],[1.623,18.282],[1.630,18.265],[1.637,18.299],[1.643,18.248],[1.650,18.316],[1.657,18.266],[1.663,18.301],[1.670,18.339],[1.677,18.302],[1.683,18.326],[1.690,18.305],[1.697,18.357],[1.703,18.303],[1.710,18.353],[1.717,18.347],[1.723,18.383],[1.730,18.325],[1.737,18.392],[1.743,18.369],[1.750,18.433],[1.757,18.369],[1.763,18.409],[1.770,18.449],[1.777,18.389],[1.783,18.435],[1.790,18.491],[1.797,18.429],[1.803,18.480],[1.810,18.463],[1.817,18.427],[1.823,18.505],[1.830,18.483],[1.837,18.542],[1.843,18.465],[1.850,18.572],[1.857,18.487],[1.863,18.542],[1.870,18.602],[1.877,18.530],[1.883,18.562],[1.890,18.510],[1.897,18.588],[1.903,18.479],[1.910,18.550],[1.917,18.517],[1.923,18.554],[1.930,18.440],[1.937,18.523],[1.943,18.469],[1.950,18.535],[1.957,18.427],[1.963,18.462],[1.970,18.480],[1.977,18.391],[1.983,18.422],[1.990,18.458],[1.997,18.374],
  [1.096,18.173],[1.130,18.190],[1.150,18.200],[1.090,18.210],[1.394,18.633],[1.388,18.608],[1.476,18.288],[1.610,18.200],[1.635,18.191],[1.596,18.200],[1.680,18.213],[1.909,18.643],[1.899,18.633],[1.851,18.276],[1.707,18.455],
  [1.007,18.345],[1.020,18.390],[1.040,18.310],[1.060,18.322],[1.073,18.300],[1.093,18.275],[1.107,18.295],[1.127,18.250],[1.140,18.300],[1.160,18.280],[1.180,18.330],[1.200,18.318],[1.213,18.352],[1.233,18.355],[1.253,18.372],[1.273,18.418],[1.287,18.450],[1.300,18.460],[1.313,18.500],[1.327,18.490],[1.340,18.545],[1.353,18.520],[1.367,18.560],[1.380,18.548],[1.393,18.515],[1.407,18.555],[1.420,18.510],[1.433,18.425],[1.447,18.440],[1.460,18.405],[1.473,18.420],[1.487,18.375],[1.500,18.350],[1.513,18.345],[1.527,18.310],[1.540,18.315],[1.553,18.295],[1.567,18.280],[1.580,18.300],[1.593,18.270],[1.607,18.295],[1.620,18.255],[1.633,18.285],[1.647,18.280],[1.660,18.320],[1.673,18.315],[1.687,18.345],[1.700,18.320],[1.713,18.372],[1.727,18.365],[1.740,18.408],[1.753,18.395],[1.767,18.430],[1.780,18.462],[1.793,18.455],[1.807,18.505],[1.820,18.490],[1.833,18.520],[1.847,18.555],[1.860,18.515],[1.873,18.575],[1.887,18.540],[1.900,18.525],[1.913,18.590],[1.927,18.495],[1.940,18.505],[1.953,18.480],[1.967,18.445]];

// ---- shared look ----
const SERIF = "'Liberation Serif', 'Times New Roman', serif";
const BLUE = '#4169E1';
const INK = '#262626';
Chart.defaults.font.family = SERIF;
Chart.defaults.color = '#000';

const PLOT_TOP = 42;        // space above the frame (title lives here)
const X_AXIS_H = 44.3;      // below the frame
const Y_AXIS_W = 74;        // left of the frame
const RIGHT_PAD = 10.7;

function minorValues(min, max, step, majors) {
  const out = [];
  for (let i = Math.ceil(min / step - 1e-6); i * step <= max + 1e-9; i++) {
    const v = +(i * step).toFixed(5);
    if (!majors.some(m => Math.abs(m - v) < step / 10)) out.push(v);
  }
  return out;
}

// inward ticks, full box and a title centred over the plot area
function panelDecor(title, yMajor, yMinor, xMajor, xMinor) {
  return {
    id: 'panelDecor',
    afterDraw(chart) {
      const { ctx, chartArea: a, scales } = chart;
      ctx.save();
      ctx.strokeStyle = INK;
      ctx.lineWidth = 1;
      ctx.beginPath();
      const yTick = (v, len) => {
        const py = Math.round(scales.y.getPixelForValue(v)) + 0.5;
        ctx.moveTo(a.left, py); ctx.lineTo(a.left + len, py);
      };
      const xTick = (v, len) => {
        const px = Math.round(scales.x.getPixelForValue(v)) + 0.5;
        ctx.moveTo(px, a.bottom); ctx.lineTo(px, a.bottom - len);
      };
      yMajor.forEach(v => yTick(v, 6));
      yMinor.forEach(v => yTick(v, 3.5));
      xMajor.forEach(v => xTick(v, 6));
      xMinor.forEach(v => xTick(v, 3.5));
      ctx.stroke();
      ctx.lineWidth = 1.2;
      ctx.strokeRect(a.left, a.top, a.right - a.left, a.bottom - a.top);

      ctx.fillStyle = '#000';
      ctx.font = '23px ' + SERIF;
      ctx.textAlign = 'center';
      ctx.textBaseline = 'middle';
      ctx.fillText(title, (a.left + a.right) / 2, 25.8);
      ctx.restore();
    }
  };
}

function buildPanel(id, title, points, yMin, yMax, yTicks, yLabels, minorStep) {
  const xMinor = minorValues(-0.1, 2.1, 0.2, phaseTicks);
  const yMinor = minorValues(yMin, yMax, minorStep, yTicks);
  return new Chart(document.getElementById(id), {
    type: 'scatter',
    data: {
      datasets: [{
        data: points,
        backgroundColor: BLUE,
        borderWidth: 0,
        pointRadius: 2.2,
        pointHoverRadius: 2.2
      }]
    },
    options: {
      responsive: false,
      animation: false,
      events: [],
      layout: { padding: { left: 0, right: RIGHT_PAD, top: PLOT_TOP, bottom: 0 }, autoPadding: false },
      plugins: {
        legend: { display: false },
        tooltip: { enabled: false },
        title: { display: false }
      },
      scales: {
        x: {
          type: 'linear',
          min: -0.1, max: 2.1,
          afterBuildTicks: s => { s.ticks = phaseTicks.map(v => ({ value: v })); },
          afterFit: s => { s.height = X_AXIS_H; },
          ticks: {
            autoSkip: false, maxRotation: 0, padding: 3.5,
            color: '#000', font: { size: 18 },
            callback: v => phaseLabels[phaseTicks.indexOf(v)]
          },
          grid: { display: false, drawTicks: false },
          border: { display: false },
          title: { display: true, text: 'Phase', color: '#000', font: { size: 19, lineHeight: 1.0 }, padding: { top: 0, bottom: 0 } }
        },
        y: {
          type: 'linear',
          min: yMin, max: yMax,
          afterBuildTicks: s => { s.ticks = yTicks.map(v => ({ value: v })); },
          afterFit: s => { s.width = Y_AXIS_W; },
          ticks: {
            autoSkip: false, padding: 6.5,
            color: '#000', font: { size: 18 },
            callback: v => yLabels[yTicks.indexOf(v)]
          },
          grid: { display: false, drawTicks: false },
          border: { display: false },
          title: { display: true, text: 'Magnitude', color: '#000', font: { size: 19, lineHeight: 1.2 }, padding: { top: 9, bottom: 0 } }
        }
      }
    },
    plugins: [panelDecor(title, yTicks, yMinor, phaseTicks, xMinor)]
  });
}

buildPanel('cep', 'CEP', cepCycle1.concat(cepCycle2), 13.8801, 14.0965, cepTicks, cepTickLabels, 0.005);
buildPanel('rrlyr', 'RRLyr', rrlyrCycle1.concat(rrlyrCycle2), 15.2943, 15.9126, rrlyrTicks, rrlyrTickLabels, 0.02);
buildPanel('mira', 'Mira', miraCycle1.concat(miraCycle2), 13.293, 17.391, miraTicks, miraTickLabels, 0.1);
buildPanel('dscuti', 'dScuti', dscutiCycle1.concat(dscutiCycle2), 15.7672, 16.0115, dscutiTicks, dscutiTickLabels, 0.008);
buildPanel('eclipsing', 'Eclipsing', eclCycle1.concat(eclCycle2), 18.141, 18.680, eclTicks, eclTickLabels, 0.02);
</script>
</body>
</html>
